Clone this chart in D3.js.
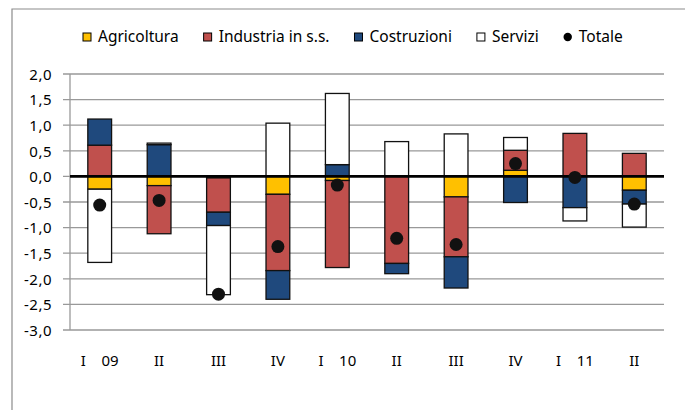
<!DOCTYPE html>
<meta charset="utf-8">
<style>
  body { margin: 0; background: #fff; }
  text { font-family: "Noto Sans", "Open Sans", sans-serif; fill: #000; }
</style>
<svg width="685" height="410"></svg>
<script src="https://cdn.jsdelivr.net/npm/d3@7/dist/d3.min.js"></script>
<script>

// quarters 2009 - 2011 (labels as in the chart)
var quarters = ["I    09", "II", "III", "IV", "I    10", "II", "III", "IV", "I    11", "II"];

var agricoltura = [-0.25, -0.18, -0.03, -0.35, -0.08, 0.00, -0.40, 0.12, 0.00, -0.27],
    industria   = [ 0.61, -0.94, -0.67, -1.49, -1.70, -1.70, -1.17, 0.39, 0.84,  0.45],
    costruzioni = [ 0.51,  0.62, -0.26, -0.56,  0.23, -0.20, -0.61, -0.51, -0.61, -0.27],
    servizi     = [-1.43,  0.03, -1.35,  1.04,  1.39,  0.68,  0.83, 0.25, -0.26, -0.45],
    totale      = [-0.56, -0.47, -2.30, -1.37, -0.17, -1.21, -1.33, 0.25, -0.02, -0.54];

var seriesNames = ["Agricoltura", "Industria in s.s.", "Costruzioni", "Servizi"],
    colors = ["#FFC000", "#C0504D", "#1F497D", "#FFFFFF"];

var yTicks = [2, 1.5, 1, 0.5, 0, -0.5, -1, -1.5, -2, -2.5, -3];

var svg = d3.select("svg"),
    plotL = 70, plotR = 664, plotT = 74, plotB = 330;

// outer frame (only left and top edges fall inside the picture)
svg.append("path")
    .attr("d", "M12,412V9H687")
    .attr("fill", "none")
    .attr("stroke", "#8c8c8c")
    .attr("stroke-width", 1.2);

var table = quarters.map(function(q, i) {
  return { i: i, a: agricoltura[i], b: industria[i], c: costruzioni[i], d: servizi[i] };
});

var stack = d3.stack()
    .keys(["a", "b", "c", "d"])
    .offset(d3.stackOffsetDiverging);
var layers = stack(table);

var x = d3.scaleBand()
    .domain(d3.range(quarters.length))
    .range([plotL, plotR])
    .paddingInner(0.6)
    .paddingOuter(0.3);

var y = d3.scaleLinear()
    .domain([-3, 2])
    .range([plotB, plotT]);

// gridlines
svg.append("g")
  .selectAll("line")
  .data(yTicks)
  .join("line")
    .attr("x1", plotL - 7)
    .attr("x2", plotR)
    .attr("y1", function(d) { return y(d); })
    .attr("y2", function(d) { return y(d); })
    .attr("stroke", "#999")
    .attr("stroke-width", 1.3);

// y axis line
svg.append("line")
    .attr("x1", plotL).attr("x2", plotL)
    .attr("y1", plotT).attr("y2", plotB)
    .attr("stroke", "#999")
    .attr("stroke-width", 1.3);

var yAxis = d3.axisLeft(y)
    .tickValues(yTicks)
    .tickSize(0)
    .tickPadding(18)
    .tickFormat(function(d) { return d3.format(".1f")(d).replace(".", ",").replace("\u2212", "-"); });

svg.append("g")
    .attr("transform", "translate(" + plotL + ",0)")
    .call(yAxis)
    .call(function(g) { g.select(".domain").remove(); })
    .selectAll("text")
    .style("font-size", "15px")
    .style("letter-spacing", "0.5px")
    .attr("dy", "0.35em");

// x labels
var xAxis = d3.axisBottom(x)
    .tickSize(0)
    .tickPadding(0)
    .tickFormat(function(i) { return quarters[i]; });

svg.append("g")
    .attr("transform", "translate(0," + (plotB + 25) + ")")
    .call(xAxis)
    .call(function(g) { g.select(".domain").remove(); })
    .selectAll("text")
    .style("font-size", "15px")
    .style("white-space", "pre");

// stacked bars
svg.append("g")
  .selectAll("g")
  .data(layers)
  .join("g")
    .attr("fill", function(d, k) { return colors[k]; })
  .selectAll("rect")
  .data(function(d) { return d; })
  .join("rect")
    .attr("x", function(d) { return x(d.data.i); })
    .attr("width", x.bandwidth())
    .attr("y", function(d) { return y(Math.max(d[0], d[1])); })
    .attr("height", function(d) { return Math.abs(y(d[0]) - y(d[1])); })
    .attr("stroke", "#111")
    .attr("stroke-width", 1.3);

// zero line
svg.append("line")
    .attr("x1", plotL).attr("x2", plotR)
    .attr("y1", y(0)).attr("y2", y(0))
    .attr("stroke", "#000")
    .attr("stroke-width", 2.6);

// totale dots
svg.append("g")
  .selectAll("circle")
  .data(totale)
  .join("circle")
    .attr("cx", function(d, i) { return x(i) + x.bandwidth() / 2; })
    .attr("cy", function(d) { return y(d); })
    .attr("r", 6.5)
    .attr("fill", "#111");

// legend
var legend = svg.append("g").style("font-size", "15.5px");
var lx = 83, ly = 37;
seriesNames.concat(["Totale"]).forEach(function(name, k) {
  if (k < 4) {
    legend.append("rect")
        .attr("x", lx).attr("y", ly - 4)
        .attr("width", 8).attr("height", 8)
        .attr("fill", colors[k])
        .attr("stroke", "#000")
        .attr("stroke-width", 1);
  } else {
    legend.append("circle")
        .attr("cx", lx + 4).attr("cy", ly)
        .attr("r", 4.2)
        .attr("fill", "#000");
  }
  var t = legend.append("text")
      .attr("x", lx + 15)
      .attr("y", ly)
      .attr("dy", "0.35em")
      .text(name);
  lx += 15 + t.node().getComputedTextLength() + 25;
});

</script>
